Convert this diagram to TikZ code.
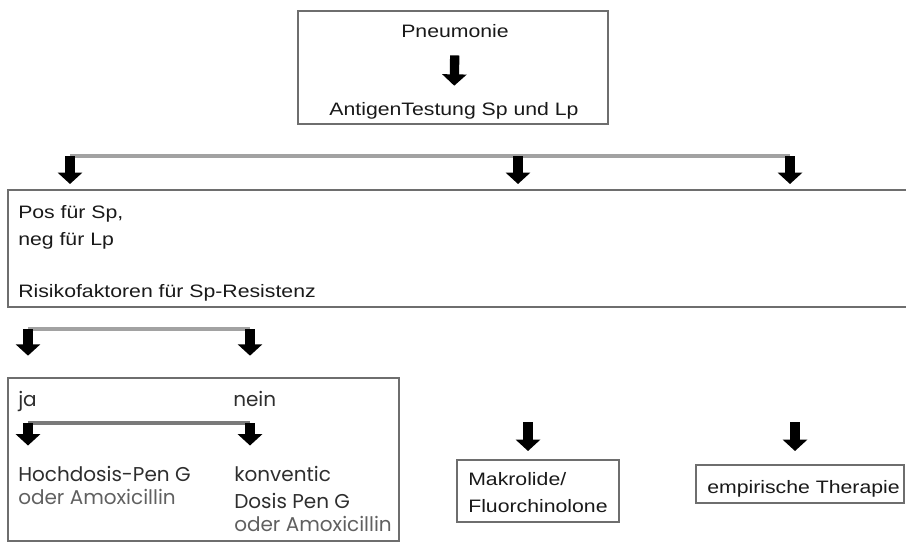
\documentclass[tikz,border=0pt]{standalone}
\usepackage{fontspec}
\setmainfont{Liberation Sans}[FakeStretch=1.18]
\newfontfamily\geofont{Poppins}
\usepackage{xcolor}
\usetikzlibrary{arrows.meta,fit}

\definecolor{boxgray}{HTML}{6E6E6E}
\definecolor{bargray}{HTML}{A2A2A2}
\definecolor{innergray}{HTML}{7A7A7A}
\definecolor{txtdark}{HTML}{2E2E2E}
\definecolor{txtlight}{HTML}{606060}

\tikzset{
  box/.style={draw=boxgray, line width=1.5pt, inner sep=0pt},
  bar/.style={draw=bargray, line width=2.6pt},
  blockarrow/.style={draw=black, line width=7pt, -{Triangle[width=18pt,length=8.5pt]}},
  txt/.style={anchor=base west, inner sep=0pt, text=black!90, font=\fontsize{13.5}{16}\selectfont},
  geotxt/.style={txt, font=\geofont\fontsize{15}{18}\selectfont, text=txtdark},
}

\begin{document}
\begin{tikzpicture}[x=0.75pt,y=0.75pt,yscale=-1,xscale=1]
    \useasboundingbox (0,0) rectangle (906,546);

    %Shape: Rectangle [top]
    \node[box, fit={(298,11) (608,124)}] (top) {};
    % Text Node
    \node[txt, anchor=base] (pneu) at (455,37) {Pneumonie};
    % Text Node
    \node[txt, anchor=base] (anti) at (454,115) {AntigenTestung Sp und Lp};
    \draw[blockarrow, shorten <=13.5pt, shorten >=12pt] (pneu.south) -- (anti.north);

    %Straight Lines [bar under top box]
    \coordinate (t1) at (70,156);
    \coordinate (t2) at (518,156);
    \coordinate (t3) at (790,156);
    \draw[bar] (t1) -- (t3);

    %Shape: open Rectangle [test result]
    \coordinate (pos) at (8,190);
    \draw[draw=boxgray, line width=1.5pt] (906,190) -- (pos) -- (8,307) -- (906,307);
    % Text Node
    \node[txt] (sp) at (18,218) {Pos für Sp,};
    % Text Node
    \node[txt] (lp) at (18,245) {neg für Lp};
    % Text Node
    \node[txt] (risk) at (18,297) {Risikofaktoren für Sp-Resistenz};

    \draw[blockarrow, shorten >=4.5pt] (t1) -- (t1 |- pos);
    \draw[blockarrow, shorten >=4.5pt] (t2) -- (t2 |- pos);
    \draw[blockarrow, shorten >=4.5pt] (t3) -- (t3 |- pos);

    %Straight Lines [bar ja / nein]
    \coordinate (r1) at (28,329);
    \coordinate (r2) at (250,329);
    \draw[bar] (r1) -- (r2);

    %Shape: Rectangle [ja / nein]
    \node[box, fit={(8,378) (399,541)}] (jn) {};
    \draw[blockarrow, shorten >=16pt] (r1) -- (r1 |- jn.north);
    \draw[blockarrow, shorten >=16pt] (r2) -- (r2 |- jn.north);
    % Text Node
    \node[geotxt] (ja) at (18,406) {ja};
    % Text Node
    \node[geotxt] (nein) at (233,406) {nein};

    %Straight Lines [inner bar]
    \coordinate (j1) at (28,423);
    \coordinate (j2) at (250,423);
    \draw[bar, draw=innergray] (j1) -- (j2);

    % Text Node
    \node[geotxt] (hoch) at (18,481) {Hochdosis-Pen G};
    % Text Node
    \node[geotxt, text=txtlight] (amox) at (18,504) {oder Amoxicillin};
    % Text Node
    \node[geotxt] (konv) at (234,481) {konventic};
    % Text Node
    \node[geotxt] (dosis) at (234,508) {Dosis Pen G};
    % Text Node
    \node[geotxt, text=txtlight] (amoxb) at (234,531) {oder Amoxicillin};

    \draw[blockarrow, shorten >=15pt] (j1) -- (j1 |- hoch.north);
    \draw[blockarrow, shorten >=15pt] (j2) -- (j2 |- konv.north);

    %Shape: Rectangle [Makrolide]
    \coordinate (m1) at (528,422);
    \node[box, fit={(457,460) (619,522)}] (makro) {};
    % Text Node
    \node[txt] (mak) at (468,485) {Makrolide/};
    % Text Node
    \node[txt] (fluor) at (468,512) {Fluorchinolone};
    \draw[blockarrow, shorten >=6pt] (m1) -- (m1 |- makro.north);

    %Shape: Rectangle [empirisch]
    \coordinate (e1) at (795,422);
    \node[box, fit={(696,465) (904,503)}] (emp) {};
    % Text Node
    \node[txt] (empt) at (707,493) {empirische Therapie};
    \draw[blockarrow, shorten >=9.75pt] (e1) -- (e1 |- emp.north);
\end{tikzpicture}
\end{document}
